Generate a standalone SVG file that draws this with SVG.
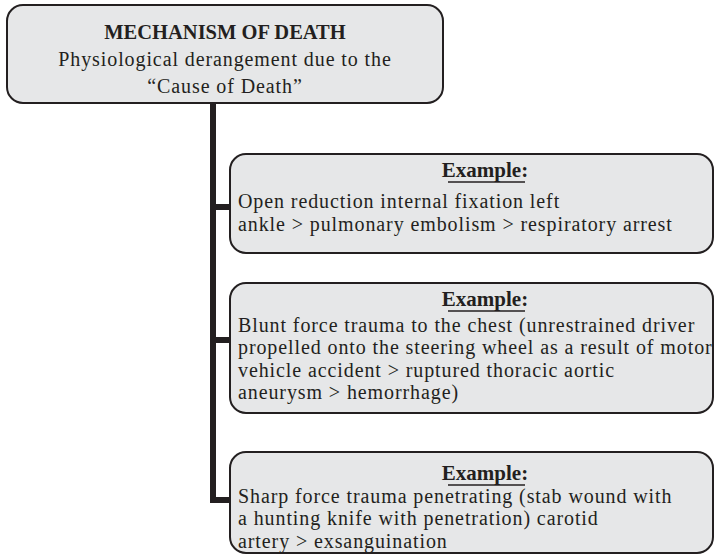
<svg xmlns="http://www.w3.org/2000/svg" width="715" height="556" viewBox="0 0 715 556">
  <style>
    .box { fill: #e6e7e8; stroke: #231f20; stroke-width: 2; }
    .txt { font-family: "Liberation Serif", "Times New Roman", serif; font-size: 20px; letter-spacing: 0.9px; fill: #231f20; }
    .ttl { font-family: "Liberation Serif", "Times New Roman", serif; font-size: 20.5px; font-weight: bold; fill: #231f20; }
    .hd { font-family: "Liberation Serif", "Times New Roman", serif; font-size: 21px; font-weight: bold; fill: #231f20; }
    .ul { stroke: #231f20; stroke-width: 1.5; }
    .conn { fill: none; stroke: #231f20; stroke-width: 6; }
  </style>

  <!-- connectors: trunk from the top box with branches to each example -->
  <g id="connectors">
    <path class="conn" d="M213,103 V500 H231"/>
    <path class="conn" d="M213,207 H231"/>
    <path class="conn" d="M213,340 H231"/>
  </g>

  <g id="mechanism">
    <rect class="box" x="7" y="5" width="436" height="98" rx="16" ry="16"/>
    <text class="ttl" x="225" y="39" text-anchor="middle">MECHANISM OF DEATH</text>
    <text class="txt" x="225" y="66" text-anchor="middle">Physiological derangement due to the</text>
    <text class="txt" x="225" y="93" text-anchor="middle">“Cause of Death”</text>
  </g>

  <g id="example1">
    <rect class="box" x="230" y="154" width="483" height="99" rx="16" ry="16"/>
    <text class="hd" x="485" y="177" text-anchor="middle">Example:</text>
    <line class="ul" x1="448" y1="182" x2="525" y2="182"/>
    <text class="txt" x="238" y="208">Open reduction internal fixation left</text>
    <text class="txt" x="238" y="230.5">ankle &gt; pulmonary embolism &gt; respiratory arrest</text>
  </g>

  <g id="example2">
    <rect class="box" x="230" y="283" width="483" height="130" rx="16" ry="16"/>
    <text class="hd" x="485" y="306" text-anchor="middle">Example:</text>
    <line class="ul" x1="448" y1="311" x2="525" y2="311"/>
    <text class="txt" x="238" y="332">Blunt force trauma to the chest (unrestrained driver</text>
    <text class="txt" x="238" y="354.4">propelled onto the steering wheel as a result of motor</text>
    <text class="txt" x="238" y="376.8">vehicle accident &gt; ruptured thoracic aortic</text>
    <text class="txt" x="238" y="399.2">aneurysm &gt; hemorrhage)</text>
  </g>

  <g id="example3">
    <rect class="box" x="230" y="452" width="483" height="101" rx="16" ry="16"/>
    <text class="hd" x="485" y="480" text-anchor="middle">Example:</text>
    <line class="ul" x1="448" y1="485" x2="525" y2="485"/>
    <text class="txt" x="238" y="503">Sharp force trauma penetrating (stab wound with</text>
    <text class="txt" x="238" y="525.4">a hunting knife with penetration) carotid</text>
    <text class="txt" x="238" y="547.8">artery &gt; exsanguination</text>
  </g>
</svg>
